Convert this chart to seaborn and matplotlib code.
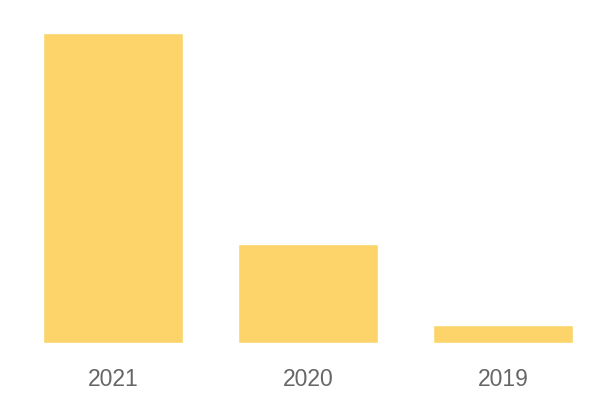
import matplotlib
matplotlib.use("Agg")
import matplotlib.pyplot as plt
import seaborn as sns
import pandas as pd

years = ["2021", "2020", "2019"]
values = [100, 32, 5.8]

sns.set_theme(style="white")
plt.rcParams['font.family'] = ['Liberation Sans', 'DejaVu Sans']

fig = plt.figure(figsize=(6, 4), dpi=100)
ax = fig.add_axes([15.5/600, 57/400, 585/600, 310/400])
df = pd.DataFrame({"year": years, "value": values})
sns.barplot(data=df, x="year", y="value", color="#FDD46A", saturation=1, width=140/195, ax=ax)
ax.set_ylim(0, 100)
ax.set_xlim(-0.5, 2.5)
ax.set_xlabel("")
ax.set_ylabel("")
ax.set_yticks([])
for s in ax.spines.values():
    s.set_visible(False)
ax.tick_params(axis="x", length=0, pad=18, labelsize=16.5, labelcolor="#666666")
fig.savefig("out.png", dpi=100, facecolor="white")
